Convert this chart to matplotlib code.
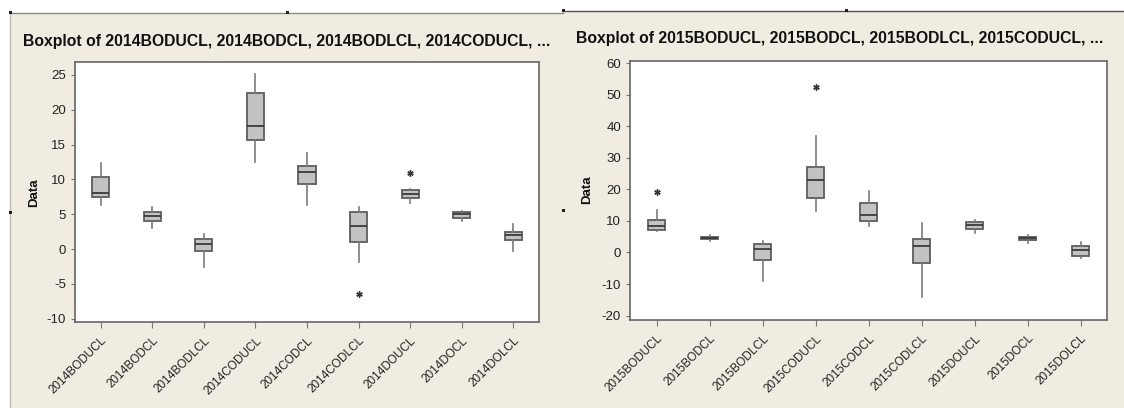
import matplotlib
matplotlib.use('Agg')
import matplotlib.pyplot as plt
from matplotlib.patches import Rectangle

plt.rcParams['font.family'] = ['Liberation Sans', 'DejaVu Sans']
plt.rcParams['axes.unicode_minus'] = False

# ── Data ──────────────────────────────────────────────────────────────
labels_2014 = ['2014BODUCL', '2014BODCL', '2014BODLCL', '2014CODUCL', '2014CODCL',
               '2014CODLCL', '2014DOUCL', '2014DOCL', '2014DOLCL']
lo_2014 = [6.3, 3.0, -2.6, 12.5, 6.3, -1.9, 6.6, 4.0, -0.3]
q1_2014 = [7.55, 4.0, -0.3, 15.6, 9.4, 1.0, 7.3, 4.4, 1.33]
med_2014 = [8.0, 4.7, 0.8, 17.7, 11.0, 3.3, 7.9, 5.0, 2.0]
q3_2014 = [10.4, 5.4, 1.5, 22.4, 11.9, 5.4, 8.55, 5.3, 2.4]
hi_2014 = [12.4, 6.1, 2.15, 25.1, 13.8, 6.1, 8.7, 5.5, 3.6]
out_2014 = [[], [], [], [], [], [-6.4], [10.9], [], []]

labels_2015 = ['2015BODUCL', '2015BODCL', '2015BODLCL', '2015CODUCL', '2015CODCL',
               '2015CODLCL', '2015DOUCL', '2015DOCL', '2015DOLCL']
lo_2015 = [6.8, 3.8, -9.0, 13.1, 8.5, -14.0, 6.1, 3.1, -1.8]
q1_2015 = [7.2, 4.2, -2.35, 17.4, 9.9, -3.3, 7.4, 3.9, -1.2]
med_2015 = [8.3, 4.6, 1.0, 23.1, 12.0, 2.0, 8.6, 4.6, 0.7]
q3_2015 = [10.2, 5.05, 2.6, 27.0, 15.6, 4.2, 9.6, 5.05, 1.9]
hi_2015 = [13.4, 5.5, 3.6, 36.8, 19.5, 9.5, 10.3, 5.6, 3.25]
out_2015 = [[19.2], [], [], [52.5], [], [], [], [], []]

CREAM = '#F0ECE1'
W, H = 1124, 408

fig = plt.figure(figsize=(W / 100, H / 100), dpi=100)
fig.patch.set_facecolor('white')

# panel backgrounds (Minitab graph windows)
fig.patches.append(Rectangle((10 / W, 0), 553 / W, (H - 12.5) / H,
                             transform=fig.transFigure, facecolor=CREAM,
                             edgecolor='none', zorder=-2))
fig.patches.append(Rectangle((563 / W, 0), (W - 563) / W, (H - 10.7) / H,
                             transform=fig.transFigure, facecolor=CREAM,
                             edgecolor='none', zorder=-2))
# panel borders
fig.add_artist(plt.Line2D([10 / W, 563 / W], [(H - 12.5) / H] * 2, color='#888888', lw=1))
fig.add_artist(plt.Line2D([10 / W] * 2, [0, (H - 12.5) / H], color='#bbbbbb', lw=1))
fig.add_artist(plt.Line2D([563 / W, 1], [(H - 10.7) / H] * 2, color='#555555', lw=1))
# selection handles
for hx, hy in [(10, 12.5), (287, 12.5), (10, 212), (563, 10.7), (846, 10.7), (563, 210)]:
    fig.patches.append(Rectangle(((hx - 1.5) / W, (H - hy - 1.5) / H), 3 / W, 3 / H,
                                 transform=fig.transFigure, facecolor='#222222',
                                 edgecolor='none', zorder=5))


def draw_panel(rect, labels, lo, q1, med, q3, hi, outliers, ylim, yticks,
               title, title_xy, ylabel_xy):
    ax = fig.add_axes(rect)
    stats = []
    for i in range(len(labels)):
        stats.append(dict(whislo=lo[i], q1=q1[i], med=med[i], q3=q3[i],
                          whishi=hi[i], fliers=outliers[i], label=labels[i]))
    ax.bxp(stats, positions=range(1, len(labels) + 1), widths=0.33,
           patch_artist=True, showcaps=False,
           boxprops=dict(facecolor='#C2C2C2', edgecolor='#5e5e5e', linewidth=1.3),
           medianprops=dict(color='#3a3a3a', linewidth=1.3),
           whiskerprops=dict(color='#7a7a7a', linewidth=1.2),
           flierprops=dict(marker=(6, 2, 0), markersize=4.5, markeredgewidth=1.0,
                           markeredgecolor='#333333', linestyle='none'))
    ax.set_xlim(0.5, len(labels) + 0.5)
    ax.set_ylim(*ylim)
    ax.set_yticks(yticks)
    ax.set_xticks(range(1, len(labels) + 1))
    ax.set_xticklabels(labels, rotation=45, ha='right', rotation_mode='anchor',
                       fontsize=8.5, color='#222222')
    ax.tick_params(axis='y', labelsize=9.5, length=3, color='#777777', labelcolor='#222222')
    ax.tick_params(axis='x', length=4, color='#777777', pad=5)
    for s in ax.spines.values():
        s.set_color('#666666')
        s.set_linewidth(1.2)
    fig.text(title_xy[0] / W, 1 - title_xy[1] / H, title, fontsize=11.3,
             fontweight='bold', ha='left', va='center', color='#111111')
    fig.text(ylabel_xy[0] / W, 1 - ylabel_xy[1] / H, 'Data', fontsize=9.5,
             fontweight='bold', rotation=90, ha='center', va='center', color='#111111')
    return ax


draw_panel([75 / W, (H - 322.3) / H, 464 / W, 260.6 / H], labels_2014,
           lo_2014, q1_2014, med_2014, q3_2014, hi_2014, out_2014,
           (-10.5, 26.9), [-10, -5, 0, 5, 10, 15, 20, 25],
           'Boxplot of 2014BODUCL, 2014BODCL, 2014BODLCL, 2014CODUCL, ...',
           (23, 41.7), (34, 193))

draw_panel([630 / W, (H - 320) / H, 477 / W, 259 / H], labels_2015,
           lo_2015, q1_2015, med_2015, q3_2015, hi_2015, out_2015,
           (-21.4, 60.7), [-20, -10, 0, 10, 20, 30, 40, 50, 60],
           'Boxplot of 2015BODUCL, 2015BODCL, 2015BODLCL, 2015CODUCL, ...',
           (576, 38), (587, 190))

fig.savefig('out.png', dpi=100)
